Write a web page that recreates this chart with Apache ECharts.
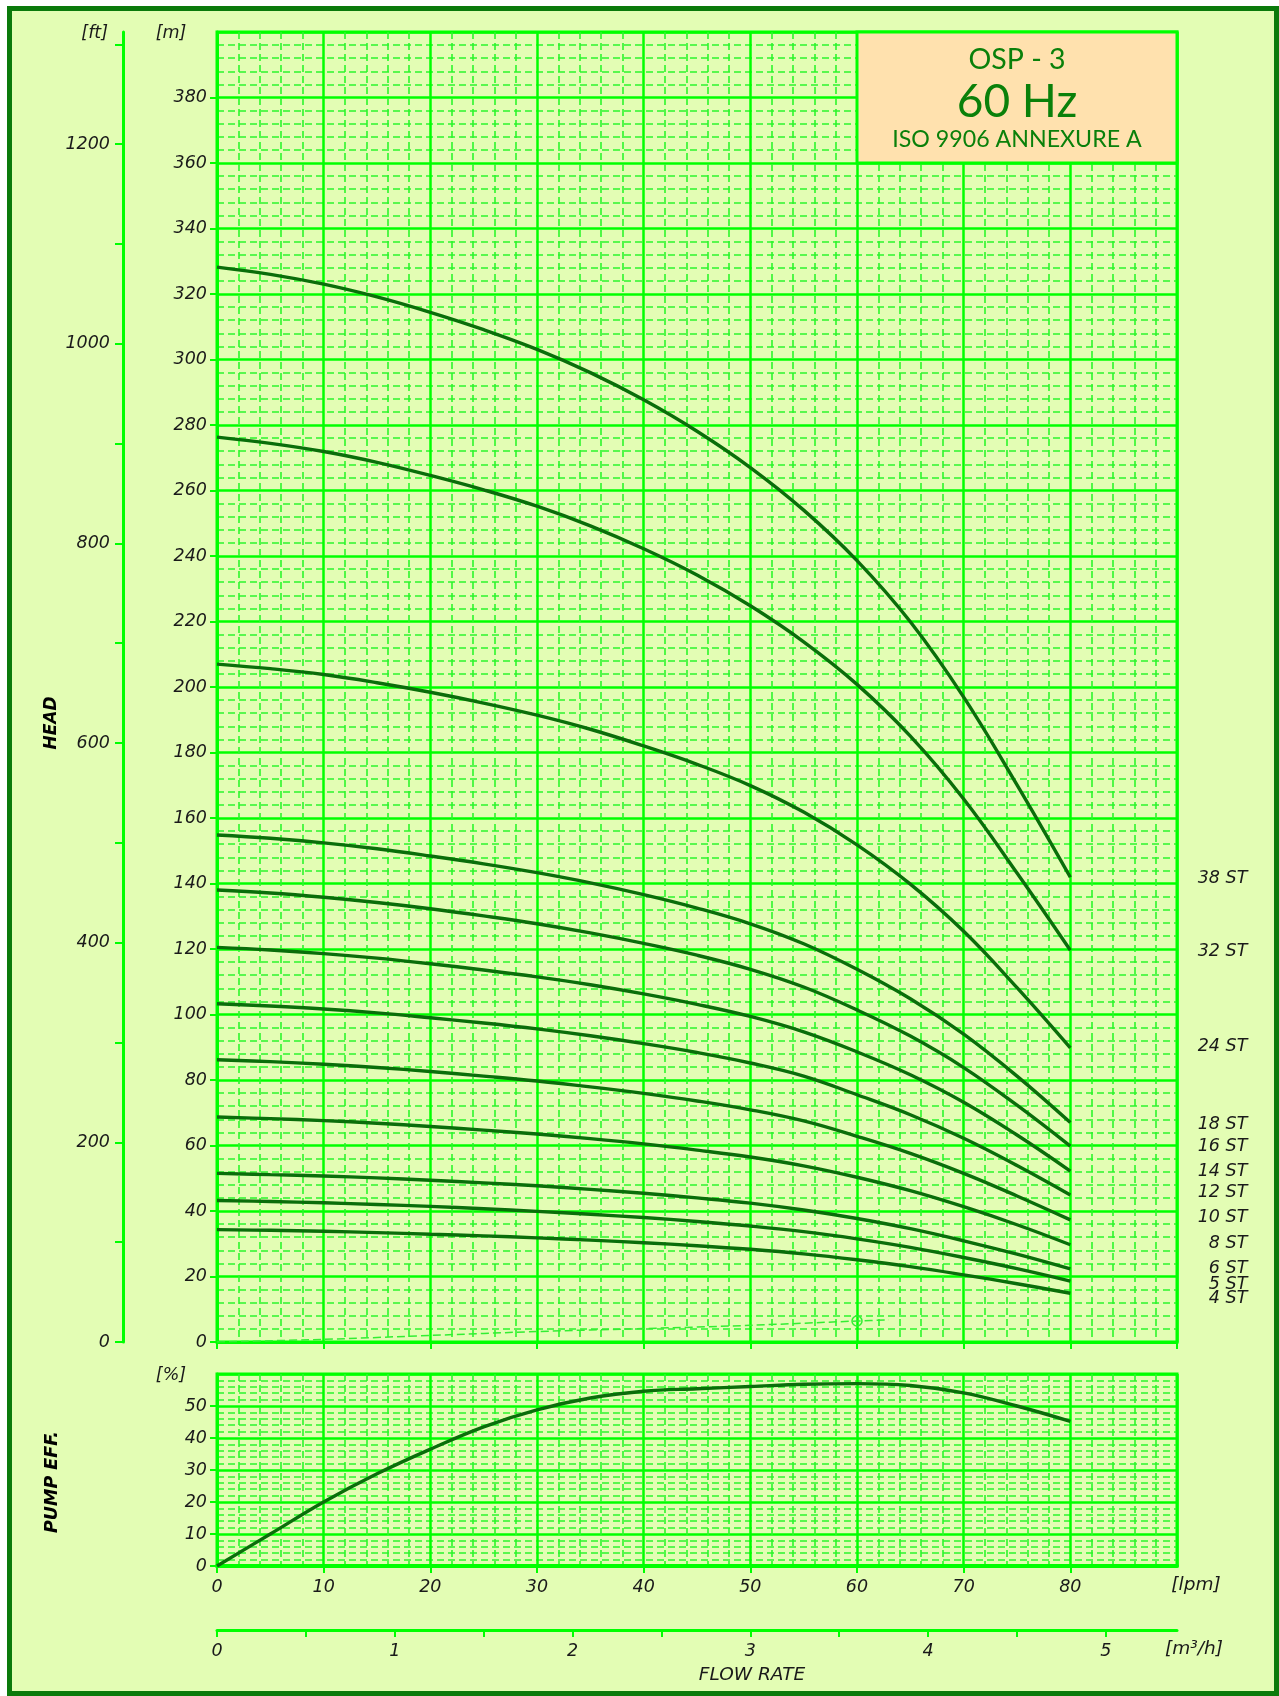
<!DOCTYPE html>
<html>
<head>
<meta charset="utf-8">
<script src="https://cdn.jsdelivr.net/npm/echarts@6.0.0/dist/echarts.min.js"></script>
<style>
html,body{margin:0;padding:0;background:#ffffff;}
#frame{position:absolute;left:7px;top:6px;width:1272px;height:1690px;box-sizing:border-box;border:5px solid #0b7a0b;background:#e3fdb4;}
#chart{position:absolute;left:0;top:0;width:1279px;height:1696px;}
</style>
</head>
<body>
<div id="frame"></div>
<div id="chart"></div>
<script>
// ---------------- DATA ----------------
const flowLpm = [0, 5, 10, 15, 20, 25, 30, 35, 40, 45, 50, 55, 60, 65, 70, 75, 80];

const stageNames = ['38 ST', '32 ST', '24 ST', '18 ST', '16 ST', '14 ST', '12 ST', '10 ST', '8 ST', '6 ST', '5 ST', '4 ST'];

const head38 = [328.2, 326.0, 323.0, 319.1, 314.4, 309.1, 303.1, 296.0, 287.7, 278.1, 267.0, 254.0, 238.6, 219.9, 196.9, 170.1, 141.9];
const head32 = [276.3, 274.4, 271.9, 268.6, 264.6, 260.2, 255.2, 249.2, 242.2, 234.2, 224.8, 213.8, 200.8, 185.0, 165.8, 143.2, 119.6];
const head24 = [207.0, 205.6, 203.8, 201.3, 198.4, 195.1, 191.4, 187.1, 182.0, 176.4, 169.9, 161.8, 151.8, 139.8, 125.4, 108.2, 89.8];
const head18 = [154.8, 153.8, 152.4, 150.6, 148.4, 146.0, 143.3, 140.2, 136.6, 132.5, 127.7, 121.6, 113.8, 104.8, 94.0, 81.2, 67.0];
const head16 = [138.0, 137.1, 135.8, 134.2, 132.3, 130.1, 127.7, 124.9, 121.7, 118.1, 113.8, 108.4, 101.4, 93.4, 83.8, 72.3, 59.8];
const head14 = [120.5, 119.7, 118.6, 117.2, 115.5, 113.6, 111.5, 109.1, 106.3, 103.1, 99.4, 94.7, 88.6, 81.6, 73.2, 63.2, 52.2];
const head12 = [103.3, 102.6, 101.7, 100.5, 99.0, 97.4, 95.6, 93.5, 91.1, 88.4, 85.2, 81.2, 75.5, 69.4, 62.2, 53.9, 44.9];
const head10 = [86.2, 85.6, 84.8, 83.8, 82.6, 81.2, 79.7, 77.9, 75.9, 73.6, 70.9, 67.5, 62.8, 57.6, 51.5, 44.6, 37.3];
const head8  = [68.7, 68.2, 67.6, 66.8, 65.8, 64.7, 63.5, 62.1, 60.5, 58.6, 56.5, 53.8, 50.3, 46.2, 41.3, 35.8, 29.7];
const head6  = [51.5, 51.1, 50.7, 50.1, 49.4, 48.6, 47.7, 46.6, 45.4, 44.0, 42.4, 40.3, 37.7, 34.6, 30.9, 26.8, 22.3];
const head5  = [43.2, 42.9, 42.5, 42.0, 41.4, 40.7, 39.9, 39.0, 38.0, 36.8, 35.4, 33.7, 31.5, 28.9, 25.8, 22.4, 18.6];
const head4  = [34.3, 34.1, 33.8, 33.4, 32.9, 32.4, 31.8, 31.1, 30.3, 29.4, 28.3, 26.9, 25.1, 23.0, 20.5, 17.8, 14.9];

const headSeries = [head38, head32, head24, head18, head16, head14, head12, head10, head8, head6, head5, head4];

const effFlow   = [0, 5, 10, 15, 20, 25, 30, 35, 40, 45, 50, 55, 60, 65, 70, 75, 80];
const effValues = [0, 10.0, 20.0, 28.8, 36.5, 43.5, 48.8, 52.5, 54.6, 55.4, 56.1, 56.8, 57.0, 56.4, 54.1, 50.0, 45.2];

const npshFlow   = [0, 10, 20, 30, 40, 50, 60, 63];
const npshValues = [0, 0.8, 2.0, 3.2, 4.1, 5.1, 6.4, 6.8];
const npshMarkFlow = 60;
const npshMarkValue = 6.4;

const ftTickValues  = [0, 100, 200, 300, 400, 500, 600, 700, 800, 900, 1000, 1100, 1200, 1300];
const ftLabelValues = [0, 200, 400, 600, 800, 1000, 1200];
const m3hTickValues  = [0, 0.5, 1, 1.5, 2, 2.5, 3, 3.5, 4, 4.5, 5];
const m3hLabelValues = [0, 1, 2, 3, 4, 5];

const titleModel = 'OSP - 3';
const titleFreq = '60 Hz';
const titleStd = 'ISO 9906 ANNEXURE A';
const titleBoxFrom = [60, 360];
const titleBoxTo = [90, 400];

// ---------------- STYLE ----------------
const FONT = 'DejaVu Sans';
const GREEN = '#00ff00';
const MINOR = '#2cf52c';
const CURVE = '#0a6e0a';
const TXT = '#1a1a1a';
// vertical nudge (px) of each stage label relative to its curve end
const stageLabelNudge = [1, 1, -1, 2, 0, 0, -2, -2.5, -1, -1, 3, 5];

const majorSplit = { show: true, lineStyle: { color: GREEN, width: 2.5 } };
const minorSplit = { show: true, lineStyle: { color: MINOR, width: 1.6, type: [7, 4] } };
const labelStyle = { color: TXT, fontStyle: 'italic', fontFamily: FONT, fontSize: 17.5 };
const plainNum = v => String(v);

const chart = echarts.init(document.getElementById('chart'), null, { renderer: 'canvas' });

const series = [];
headSeries.forEach((vals, i) => {
  series.push({
    type: 'line', name: stageNames[i], xAxisIndex: 0, yAxisIndex: 0,
    data: flowLpm.map((x, k) => [x, vals[k]]),
    smooth: 0.4, symbol: 'none', silent: true, z: 5,
    lineStyle: { color: CURVE, width: 3.4 },
    endLabel: Object.assign({ show: true, formatter: '{a}', distance: 177, align: 'right', offset: [0, stageLabelNudge[i]] }, labelStyle)
  });
});

series.push({
  type: 'line', name: 'NPSH', xAxisIndex: 0, yAxisIndex: 0,
  data: npshFlow.map((x, k) => [x, npshValues[k]]),
  smooth: 0.3, symbol: 'none', silent: true, z: 4,
  lineStyle: { color: '#33ee33', width: 1.5, type: [8, 4] },
  markPoint: {
    silent: true, symbol: 'circle', symbolSize: 10,
    itemStyle: { color: 'rgba(0,0,0,0)', borderColor: '#33ee33', borderWidth: 1.5 },
    label: { show: false },
    data: [{ coord: [npshMarkFlow, npshMarkValue] }]
  },
  markArea: {
    silent: true,
    itemStyle: { color: '#ffe1ae', borderColor: GREEN, borderWidth: 3 },
    label: {
      show: true, position: 'inside',
      formatter: '{a|' + titleModel + '}\n{b|' + titleFreq + '}\n{c|' + titleStd + '}',
      rich: {
        a: { fontFamily: 'Lato', fontSize: 28.5, color: '#0a800a', lineHeight: 33, align: 'center' },
        b: { fontFamily: 'Lato', fontSize: 46, color: '#0a800a', lineHeight: 52, align: 'center' },
        c: { fontFamily: 'Lato', fontSize: 23.2, color: '#0a800a', lineHeight: 23, align: 'center' }
      }
    },
    data: [[{ coord: titleBoxFrom }, { coord: titleBoxTo }]]
  }
});

series.push({
  type: 'line', name: 'EFF', xAxisIndex: 1, yAxisIndex: 2,
  data: effFlow.map((x, k) => [x, effValues[k]]),
  smooth: 0.4, symbol: 'none', silent: true, z: 5,
  lineStyle: { color: CURVE, width: 3.4 }
});

const textEl = (x, y, text, extra) => ({
  type: 'text', x: x, y: y, silent: true,
  style: Object.assign({ text: text, align: 'center', verticalAlign: 'middle', textAlign: 'center', textVerticalAlign: 'middle', fill: TXT, fontStyle: 'italic', fontFamily: FONT, fontSize: 17.5 }, extra || {})
});

const option = {
  animation: false,
  backgroundColor: 'transparent',
  textStyle: { fontFamily: FONT },
  grid: [
    { left: 217, top: 32, width: 960, height: 1310, show: true, borderColor: GREEN, borderWidth: 3, backgroundColor: 'transparent', containLabel: false, outerBoundsMode: 'none' },
    { left: 217, top: 1374, width: 960, height: 192, show: true, borderColor: GREEN, borderWidth: 3, backgroundColor: 'transparent', containLabel: false, outerBoundsMode: 'none' }
  ],
  xAxis: [
    {
      type: 'value', gridIndex: 0, min: 0, max: 90, interval: 10,
      axisLine: { show: true, onZero: false, lineStyle: { color: GREEN, width: 3 } },
      axisTick: { show: true, length: 7, lineStyle: { color: GREEN, width: 2 } },
      axisLabel: { show: false },
      splitLine: majorSplit,
      minorTick: { show: false, splitNumber: 5 },
      minorSplitLine: minorSplit
    },
    {
      type: 'value', gridIndex: 1, min: 0, max: 90, interval: 10,
      axisLine: { show: true, onZero: false, lineStyle: { color: GREEN, width: 4 } },
      axisTick: { show: true, length: 7, lineStyle: { color: GREEN, width: 2 } },
      axisLabel: Object.assign({ margin: 12, showMaxLabel: false, formatter: plainNum }, labelStyle),
      splitLine: majorSplit,
      minorTick: { show: false, splitNumber: 5 },
      minorSplitLine: minorSplit
    },
    {
      type: 'value', gridIndex: 1, position: 'bottom', offset: 64, min: 0, max: 5.4, interval: 0.5,
      axisLine: { show: true, onZero: false, lineStyle: { color: GREEN, width: 3 } },
      axisTick: { show: true, length: 7, customValues: m3hTickValues, lineStyle: { color: GREEN, width: 2 } },
      axisLabel: Object.assign({ margin: 12, customValues: m3hLabelValues, formatter: plainNum }, labelStyle),
      splitLine: { show: false }
    }
  ],
  yAxis: [
    {
      type: 'value', gridIndex: 0, min: 0, max: 400, interval: 20, position: 'left',
      axisLine: { show: true, onZero: false, lineStyle: { color: GREEN, width: 3 } },
      axisTick: { show: true, length: 7, lineStyle: { color: GREEN, width: 2 } },
      axisLabel: Object.assign({ margin: 10, showMaxLabel: false, formatter: plainNum }, labelStyle),
      splitLine: majorSplit,
      minorTick: { show: false, splitNumber: 5 },
      minorSplitLine: minorSplit
    },
    {
      type: 'value', gridIndex: 0, min: 0, max: 400 / 0.3048, position: 'left', offset: 94,
      axisLine: { show: true, onZero: false, lineStyle: { color: GREEN, width: 3 } },
      axisTick: { show: true, length: 8, customValues: ftTickValues, lineStyle: { color: GREEN, width: 2 } },
      axisLabel: Object.assign({ margin: 13, customValues: ftLabelValues, formatter: plainNum }, labelStyle),
      splitLine: { show: false }
    },
    {
      type: 'value', gridIndex: 1, min: 0, max: 60, interval: 10, position: 'left',
      axisLine: { show: true, onZero: false, lineStyle: { color: GREEN, width: 3 } },
      axisTick: { show: true, length: 7, lineStyle: { color: GREEN, width: 2 } },
      axisLabel: Object.assign({ margin: 10, showMaxLabel: false, formatter: plainNum }, labelStyle),
      splitLine: majorSplit,
      minorTick: { show: false, splitNumber: 5 },
      minorSplitLine: minorSplit
    }
  ],
  graphic: [
    textEl(108, 33, '[ft]', { align: 'right', textAlign: 'right' }),
    textEl(171, 33, '[m]'),
    textEl(171, 1375, '[%]'),
    textEl(1196, 1585, '[lpm]', { fontSize: 18.5 }),
    textEl(1194, 1649, '[m³/h]', { fontSize: 18.5 }),
    textEl(752, 1675, 'FLOW RATE', { fontSize: 18.5 }),
    Object.assign(textEl(52, 723, 'HEAD', { fill: '#000', fontWeight: 'bold', fontSize: 17 }), { rotation: Math.PI / 2 }),
    Object.assign(textEl(52, 1482, 'PUMP EFF.', { fill: '#000', fontWeight: 'bold', fontSize: 17.5 }), { rotation: Math.PI / 2 })
  ],
  series: series
};

chart.setOption(option);
</script>
</body>
</html>
